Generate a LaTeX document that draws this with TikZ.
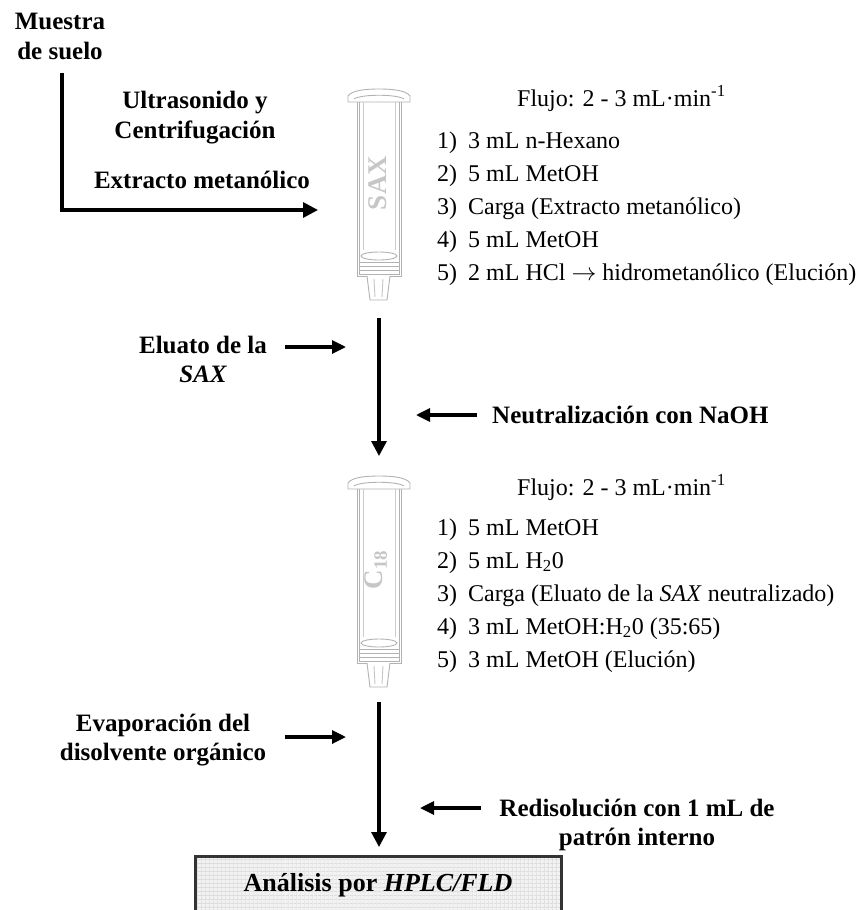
\documentclass[tikz,border=0pt]{standalone}
\usepackage{fontspec}
\setmainfont{Liberation Serif}
\usetikzlibrary{arrows.meta,patterns.meta}

\tikzset{
  flow/.style={line width=3.2pt,-{Triangle[length=15pt,width=15pt]}},
  sideflow/.style={line width=3.2pt,-{Triangle[length=14pt,width=13pt]}},
  headtext/.style={font=\fontsize{25}{30}\selectfont\bfseries, inner sep=0pt, anchor=base},
  listtext/.style={font=\fontsize{24}{28}\selectfont, inner sep=0pt, anchor=base west},
  wall/.style={draw=gray!60, line width=0.9pt},
  packing/.style={font=\fontsize{27}{30}\selectfont\bfseries, text=gray!45, rotate=90, inner sep=0pt},
  resultbox/.style={draw=black!80, line width=3pt,
    preaction={fill=gray!10},
    preaction={pattern={Lines[angle=0,distance=4pt,line width=0.4pt]}, pattern color=gray!35},
    preaction={pattern={Lines[angle=90,distance=4pt,line width=0.4pt]}, pattern color=gray!35},
    minimum width=366pt, minimum height=58pt, inner sep=0pt,
    font=\fontsize{26}{30}\selectfont\bfseries},
  cartridge/.pic={
    % rim at the top
    \draw[wall, fill=white] (-31,12) -- (-31,6) .. controls (-27,0) and (-12,-1) .. (0,-1)
      .. controls (12,-1) and (27,0) .. (31,6) -- (31,12) -- cycle;
    \draw[wall] (-25,9) .. controls (-18,4) and (18,4) .. (25,9);
    % barrel walls
    \draw[wall] (-22,12) -- (-22,186) -- (22,186) -- (22,12);
    \draw[wall] (-20,12) -- (-20,184) -- (20,184) -- (20,12);
    \draw[wall, draw=gray!40] (-16,12) -- (-16,160);
    \draw[wall, draw=gray!40] (16,12) -- (16,160);
    % frit and thread
    \draw[wall] (0,166) ellipse [x radius=18, y radius=4];
    \foreach \yy in {172,176,180} \draw[wall] (-20,\yy) -- (20,\yy);
    % outlet tip
    \draw[wall, fill=white] (-12,186) -- (-9,210) -- (8,210) -- (11,186);
    \draw[wall, draw=gray!45] (-5,189) -- (-4,207) (4,189) -- (3,207);
  }
}

\begin{document}
\begin{tikzpicture}[x=1pt,y=-1pt]
\useasboundingbox (0,0) rectangle (866,910);

% ---- soil sample and extraction ----
\node[headtext] (muestra1) at (60,29) {Muestra};
\node[headtext] (muestra2) at (60,59) {de suelo};
\node[headtext] (ultra1) at (195,108) {Ultrasonido y};
\node[headtext] (ultra2) at (195,138) {Centrifugación};
\node[headtext] (extracto) at (202,188) {Extracto metanólico};
\coordinate (sampleout) at (62,73);
\coordinate (saxin) at (318,210);
\draw[flow] (sampleout) |- (saxin);

% ---- SAX cartridge ----
\pic at (379,90) {cartridge};
\node[packing] (saxlabel) at (378,183) {SAX};
\node[listtext] (flujo1) at (517,106) {Flujo: 2 - 3 mL·min\textsuperscript{-1}};
\foreach \txt [count=\i] in {3 mL n-Hexano, 5 mL MetOH, Carga (Extracto metanólico),
    5 mL MetOH, 2 mL HCl $\rightarrow$ hidrometanólico (Elución)} {
  \node[listtext] (saxnum\i) at (437,115+33*\i) {\i)};
  \node[listtext] (saxstep\i) at (468,115+33*\i) {\txt};
}

% ---- eluate and neutralisation ----
\coordinate (saxout) at (379,318);
\coordinate (c18in) at (379,456);
\draw[flow] (saxout) -- (c18in);
\node[headtext] (eluato1) at (203,353) {Eluato de la};
\node[headtext] (eluato2) at (203,382) {\itshape SAX};
\coordinate (eluatoA) at (285,347);
\coordinate (eluatoB) at (346,347);
\draw[sideflow] (eluatoA) -- (eluatoB);
\node[headtext, anchor=base west] (neutral) at (492,423) {Neutralización con NaOH};
\coordinate (neutralA) at (477,415);
\coordinate (neutralB) at (416,415);
\draw[sideflow] (neutralA) -- (neutralB);

% ---- C18 cartridge ----
\pic at (379,477) {cartridge};
\node[packing] (c18label) at (376,570) {C\textsubscript{18}};
\node[listtext] (flujo2) at (517,495) {Flujo: 2 - 3 mL·min\textsuperscript{-1}};
\foreach \txt [count=\i] in {5 mL MetOH, 5 mL H\textsubscript{2}0,
    Carga (Eluato de la \textit{SAX} neutralizado),
    3 mL MetOH:H\textsubscript{2}0 (35:65), 3 mL MetOH (Elución)} {
  \node[listtext] (c18num\i) at (437,502+33*\i) {\i)};
  \node[listtext] (c18step\i) at (468,502+33*\i) {\txt};
}

% ---- evaporation, redissolution and analysis ----
\coordinate (c18out) at (379,702);
\coordinate (hplcin) at (379,847);
\draw[flow] (c18out) -- (hplcin);
\node[headtext] (evap1) at (163,731) {Evaporación del};
\node[headtext] (evap2) at (163,760) {disolvente orgánico};
\coordinate (evapA) at (285,737);
\coordinate (evapB) at (346,737);
\draw[sideflow] (evapA) -- (evapB);
\node[headtext] (redis1) at (637,816) {Redisolución con 1 mL de};
\node[headtext] (redis2) at (637,845) {patrón interno};
\coordinate (redisA) at (481,808);
\coordinate (redisB) at (420,808);
\draw[sideflow] (redisA) -- (redisB);

\node[resultbox] (hplc) at (378,885) {Análisis por \textit{HPLC/FLD}};
\end{tikzpicture}
\end{document}
